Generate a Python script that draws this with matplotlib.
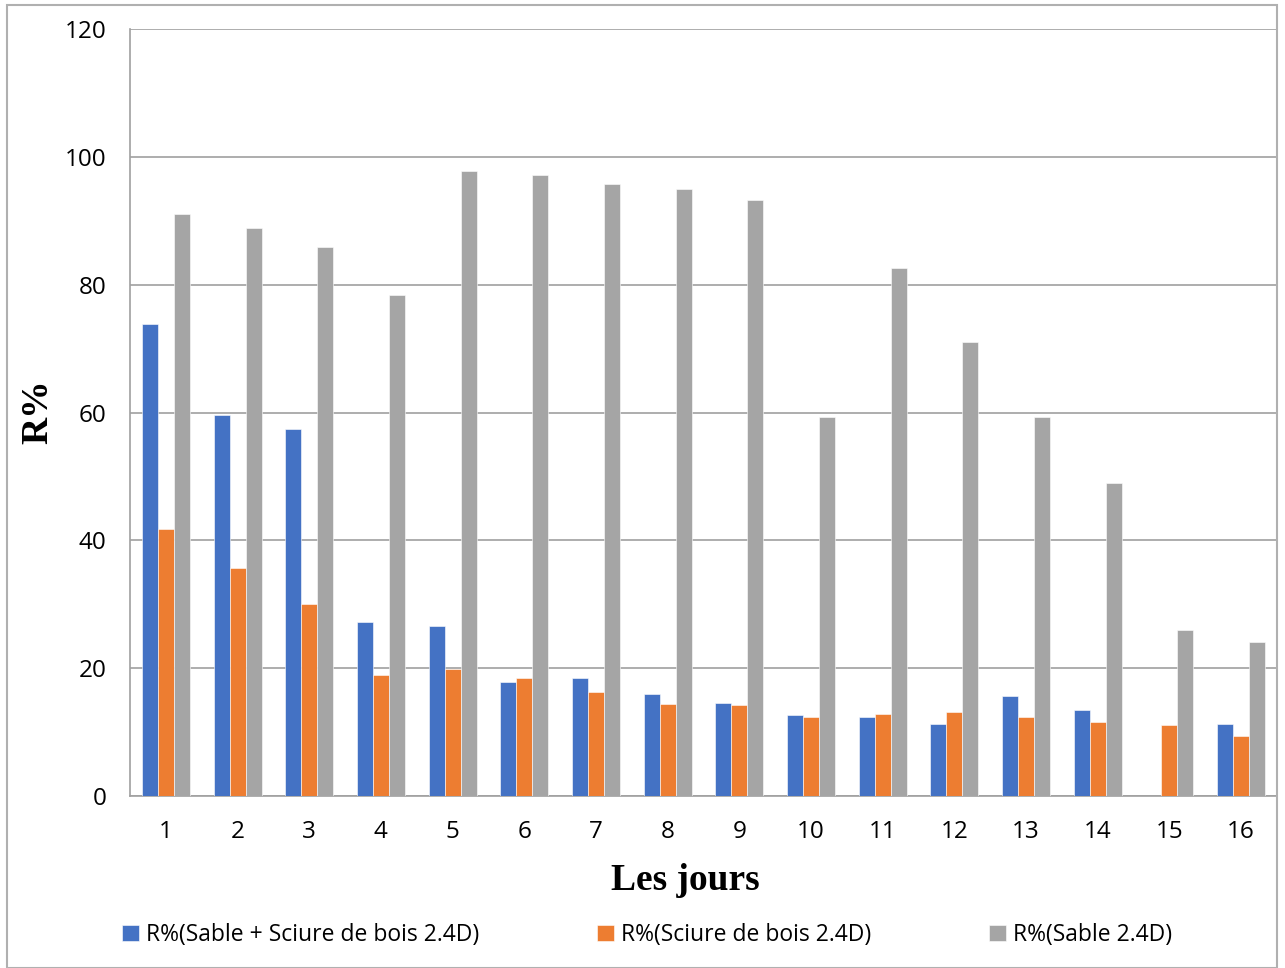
import numpy as np
import matplotlib
matplotlib.use("Agg")
import matplotlib.pyplot as plt
from matplotlib.patches import Rectangle

days = [str(i) for i in range(1, 17)]
sable_sciure = [73.9, 59.6, 57.4, 27.3, 26.6, 17.9, 18.5, 15.9, 14.6, 12.7, 12.3, 11.2, 15.7, 13.4, np.nan, 11.2]
sciure = [41.7, 35.7, 30.1, 19.0, 19.8, 18.5, 16.3, 14.4, 14.2, 12.3, 12.9, 13.1, 12.3, 11.5, 11.1, 9.4]
sable = [91.0, 88.8, 85.9, 78.4, 97.8, 97.1, 95.7, 94.9, 93.3, 59.3, 82.6, 71.1, 59.3, 48.9, 26.0, 24.1]
labels = ["R%(Sable + Sciure de bois 2.4D)", "R%(Sciure de bois 2.4D)", "R%(Sable 2.4D)"]
colors = ["#4472C4", "#ED7D31", "#A5A5A5"]
yticks = [0, 20, 40, 60, 80, 100, 120]

W, H = 1285, 968
fig = plt.figure(figsize=(W / 100, H / 100), dpi=100)
ax = fig.add_axes([130 / W, 1 - 796 / H, (1277 - 130) / W, (796 - 29) / H])

x = np.arange(1, 17)
bw = 0.223
series = [sable_sciure, sciure, sable]
handles = []
for i, (vals, c, lab) in enumerate(zip(series, colors, labels)):
    h = ax.bar(x + (i - 1) * bw, vals, width=bw, color=c, label=lab,
               edgecolor="white", linewidth=0.4, zorder=3)
    handles.append(h)

ax.set_xlim(0.5, 16.5)
ax.set_ylim(0, 120)
ax.set_yticks(yticks)
ax.set_xticks(x)
ax.set_xticklabels(days)
ax.yaxis.grid(True, color="#A0A0A0", linewidth=1.2, zorder=0)
ax.set_axisbelow(True)
for s in ["top", "right"]:
    ax.spines[s].set_visible(False)
for s in ["left", "bottom"]:
    ax.spines[s].set_color("#A0A0A0")
    ax.spines[s].set_linewidth(1.2)
ax.tick_params(axis="both", length=0, labelsize=17.5, colors="black")
ax.tick_params(axis="x", pad=17)
ax.tick_params(axis="y", pad=17)
for t in ax.get_xticklabels() + ax.get_yticklabels():
    t.set_fontfamily("Open Sans")

fig.text(685 / W, 1 - 880 / H, "Les jours", fontsize=27, fontweight="bold",
         family="Liberation Serif", ha="center", va="center")
fig.text(38 / W, 1 - 412 / H, "R%", fontsize=27, fontweight="bold",
         family="Liberation Serif", ha="center", va="center", rotation=90)

leg = fig.legend(handles=handles, labels=labels, loc="center",
                 bbox_to_anchor=(647 / W, 1 - 935 / H), ncol=3, frameon=False,
                 prop={"family": "Open Sans", "size": 16.5},
                 handlelength=0.75, handleheight=0.75, handletextpad=0.3,
                 columnspacing=5.15)

fig.patches.append(Rectangle((7 / W, 0), (1277 - 7) / W, 1 - 5 / H - 0.0,
                             transform=fig.transFigure, fill=False,
                             edgecolor="#B0B0B0", linewidth=1.5))

fig.savefig("out.png", dpi=100)
